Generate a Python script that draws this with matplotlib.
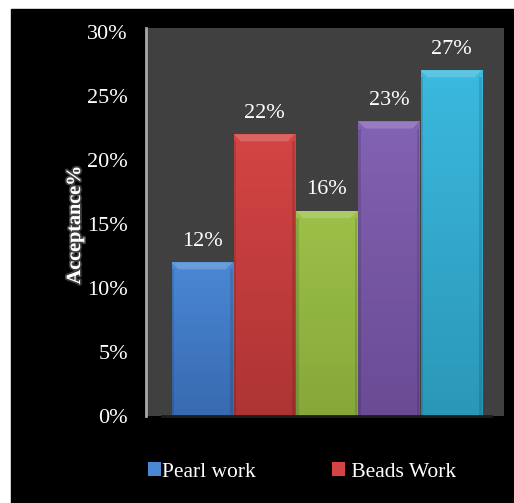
import numpy as np
import matplotlib.pyplot as plt
import matplotlib.patches as mpatches
import matplotlib.patheffects as pe
from matplotlib.colors import LinearSegmentedColormap

# data
categories = ["Pearl work", "Beads Work", "C3", "C4", "C5"]
values = [12, 22, 16, 23, 27]
legend_labels = ["Pearl work", " Beads Work"]
yticks = [0, 5, 10, 15, 20, 25, 30]
top_colors = ["#4a88d4", "#d44444", "#9cc048", "#8262b2", "#3bb9de"]
bottom_colors = ["#386ab0", "#ae3434", "#86a83a", "#6a4b94", "#2b97b8"]

plt.rcParams['font.family'] = ['Liberation Serif', 'DejaVu Serif']

fig = plt.figure(figsize=(5.14, 5.03), dpi=100, facecolor='white')
# black backdrop with white margin top/left
bg = mpatches.Rectangle((11 / 514, 0), 1, (503 - 9) / 503,
                        transform=fig.transFigure, color='black', zorder=-10)
fig.add_artist(bg)

ax = fig.add_axes([146 / 514, (503 - 416) / 503, 358 / 514, 388 / 503])
ax.set_zorder(1)
ax.set_facecolor('#404040')

x = np.arange(len(values))
bars = ax.bar(x, values, width=0.98, color=top_colors, zorder=2)

# vertical gradient + bevel top for each bar
for i, (b, c1, c2) in enumerate(zip(bars, top_colors, bottom_colors)):
    x0, y0 = b.get_x(), b.get_y()
    w, h = b.get_width(), b.get_height()
    cmap = LinearSegmentedColormap.from_list('g', [c2, c1])
    grad = np.linspace(0, 1, 100).reshape(-1, 1)
    im = ax.imshow(grad, cmap=cmap, aspect='auto', origin='lower',
                   extent=(x0, x0 + w, y0, y0 + h), zorder=3)
    im.set_clip_path(b)
    bev = 0.55
    dx = 0.11
    top = mpatches.Polygon([(x0, y0 + h), (x0 + w, y0 + h),
                            (x0 + w - dx, y0 + h - bev), (x0 + dx, y0 + h - bev)],
                           closed=True, facecolor='white', alpha=0.18,
                           edgecolor='none', zorder=4)
    ax.add_patch(top)
    # darker side edges
    for sx in (x0, x0 + w - 0.04):
        ax.add_patch(mpatches.Rectangle((sx, y0), 0.04, h - bev, facecolor='black',
                                        alpha=0.12, edgecolor='none', zorder=4))
    ax.text(x0 + w / 2, y0 + h + 1.65, f"{values[i]}%",
            ha='center', va='center', color='white', fontsize=16, zorder=5)

ax.set_xlim(-0.9, 4.85)
ax.set_ylim(0, 30.3)
ax.set_yticks(yticks)
ax.set_yticklabels([f"{t}%" for t in yticks], color='white', fontsize=16)
ax.tick_params(axis='y', length=0, pad=13)
ax.set_xticks([])

for s in ['top', 'right', 'bottom']:
    ax.spines[s].set_visible(False)
ax.spines['left'].set_color('#a8a8a8')
ax.spines['left'].set_linewidth(2)
ax.axhline(0, xmin=0.045, xmax=0.964, color='#1c1c1c', lw=2, zorder=6, clip_on=False)

ylab = ax.set_ylabel("Acceptance%", color='white', fontsize=14.5, fontweight='bold')
ylab.set_path_effects([pe.withStroke(linewidth=2.5, foreground='#6a6a6a', alpha=0.6)])
ax.yaxis.set_label_coords((85 - 146) / 358, 0.492)

leg = fig.legend([bars[0], bars[1]], legend_labels, loc='center',
                 bbox_to_anchor=(302 / 514, (503 - 472) / 503), ncol=2,
                 frameon=False, fontsize=15.5, handlelength=0.6, handleheight=0.6,
                 handletextpad=0.05, columnspacing=3.55)
for t in leg.get_texts():
    t.set_color('white')

plt.savefig("out.png", dpi=100, facecolor=fig.get_facecolor())
